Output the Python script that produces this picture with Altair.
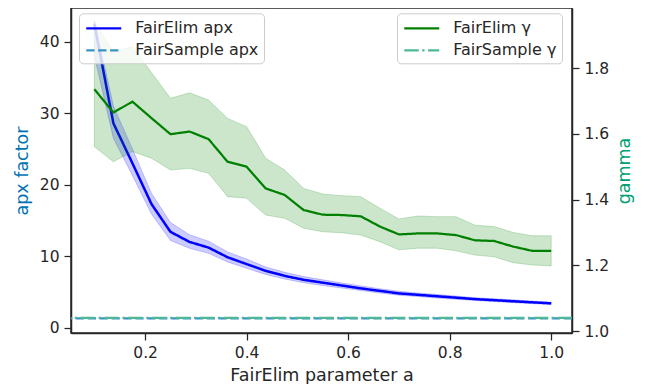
import altair as alt
import pandas as pd

# ---- data ----
a_vals = [0.1, 0.1375, 0.175, 0.2125, 0.25, 0.2875, 0.325, 0.3625, 0.4, 0.4375,
          0.475, 0.5125, 0.55, 0.5875, 0.625, 0.6625, 0.7, 0.7375, 0.775, 0.8125,
          0.85, 0.8875, 0.925, 0.9625, 1.0]

apx_mean = [42.5, 28.6, 23.0, 17.3, 13.4, 12.0, 11.2, 9.85, 8.9, 7.95,
            7.25, 6.7, 6.3, 5.9, 5.5, 5.15, 4.8, 4.6, 4.4, 4.2,
            4.0, 3.85, 3.7, 3.55, 3.41]
apx_lo = [38.0, 26.5, 21.3, 15.9, 12.2, 11.1, 10.4, 9.2, 8.3, 7.45,
          6.8, 6.3, 5.9, 5.55, 5.2, 4.85, 4.55, 4.35, 4.15, 3.97,
          3.8, 3.65, 3.5, 3.37, 3.25]
apx_hi = [43.0, 31.0, 25.0, 18.8, 14.7, 13.0, 12.1, 10.6, 9.6, 8.5,
          7.75, 7.15, 6.7, 6.25, 5.85, 5.45, 5.1, 4.85, 4.65, 4.43,
          4.2, 4.05, 3.9, 3.73, 3.57]

gam_mean = [1.736, 1.665, 1.698, 1.648, 1.599, 1.607, 1.584, 1.515, 1.500, 1.434,
            1.414, 1.368, 1.354, 1.353, 1.349, 1.318, 1.294, 1.297, 1.297, 1.292,
            1.276, 1.274, 1.257, 1.244, 1.244]
gam_lo = [1.561, 1.515, 1.546, 1.526, 1.490, 1.495, 1.480, 1.409, 1.404, 1.353,
          1.343, 1.313, 1.302, 1.299, 1.292, 1.272, 1.247, 1.252, 1.252, 1.244,
          1.231, 1.226, 1.208, 1.201, 1.198]
gam_hi = [1.941, 1.850, 1.865, 1.787, 1.708, 1.725, 1.703, 1.647, 1.622, 1.526,
          1.490, 1.434, 1.417, 1.412, 1.409, 1.374, 1.341, 1.350, 1.348, 1.348,
          1.322, 1.318, 1.300, 1.290, 1.290]

fairsample_apx = 1.3
fairsample_gamma = 1.04

left_series = ["FairElim apx", "FairSample apx"]
right_series = ["FairElim γ", "FairSample γ"]

x_ticks = [0.2, 0.4, 0.6, 0.8, 1.0]
left_ticks = [0, 10, 20, 30, 40]
right_ticks = [1.0, 1.2, 1.4, 1.6, 1.8]

# ---- tables ----
df = pd.DataFrame({
    "a": a_vals,
    "apx": apx_mean, "apx_lo": apx_lo, "apx_hi": apx_hi,
    "g": gam_mean, "g_lo": gam_lo, "g_hi": gam_hi,
})
ref_apx = pd.DataFrame({"series": [left_series[1]], "v": [fairsample_apx]})
ref_gam = pd.DataFrame({"series": [right_series[1]], "v": [fairsample_gamma]})

TXT = "#262626"
FONT = "DejaVu Sans"

X = alt.X("a:Q",
          scale=alt.Scale(domain=[0.054, 1.041], nice=False, zero=False),
          axis=alt.Axis(title="FairElim parameter a", values=x_ticks, format=".1f",
                        titlePadding=6))

left_scale = alt.Scale(domain=[-0.74, 44.71], nice=False, zero=False)
left_axis = alt.Axis(title="apx factor", titleColor="#0173b2", values=left_ticks,
                     format="d", orient="left", titlePadding=8)
right_scale = alt.Scale(domain=[0.994, 1.983], nice=False, zero=False)
right_axis = alt.Axis(title="gamma", titleColor="#029e73", values=right_ticks,
                      format=".1f", orient="right", titleAngle=270,
                      titleBaseline="top", titlePadding=7)


def make_legend(lx, ly):
    return alt.Legend(orient="none", legendX=lx, legendY=ly, title=None,
                      symbolType="M-2,0H2", symbolSize=306, symbolStrokeWidth=2.25,
                      symbolOffset=9.75, labelOffset=21.5, rowPadding=4, padding=5,
                      fillColor="rgba(255,255,255,0.8)", strokeColor="#cccccc",
                      cornerRadius=4, labelFontSize=16, labelFont=FONT,
                      labelColor=TXT)


leg_left = make_legend(8, 5.3)
leg_right = make_legend(326, 5.3)

lc_scale = alt.Scale(domain=left_series, range=["#0000ff", "#3a93c3"])
ld_scale = alt.Scale(domain=left_series, range=[[1, 0], [8.3, 3.6]])
rc_scale = alt.Scale(domain=right_series, range=["#008000", "#4cb896"])
rd_scale = alt.Scale(domain=right_series, range=[[1, 0], [14.4, 3.6, 2.25, 3.6]])

base = alt.Chart(df)

# ---- left (apx) layer ----
apx_band = base.mark_area(fill="#0000ff", fillOpacity=0.2, stroke="#0000ff",
                          strokeOpacity=0.2, strokeWidth=1).encode(
    x=X,
    y=alt.Y("apx_lo:Q", scale=left_scale, axis=left_axis),
    y2="apx_hi:Q",
)
apx_line = base.transform_calculate(series="'FairElim apx'").mark_line(
    strokeWidth=2.5).encode(
    x=X,
    y=alt.Y("apx:Q", scale=left_scale, axis=left_axis),
    color=alt.Color("series:N", scale=lc_scale, legend=leg_left),
    strokeDash=alt.StrokeDash("series:N", scale=ld_scale, legend=leg_left),
)
apx_rule = alt.Chart(ref_apx).mark_rule(strokeWidth=2.25).encode(
    y=alt.Y("v:Q", scale=left_scale, axis=left_axis),
    color=alt.Color("series:N", scale=lc_scale, legend=leg_left),
    strokeDash=alt.StrokeDash("series:N", scale=ld_scale, legend=leg_left),
)
left = alt.layer(apx_band, apx_line, apx_rule)

# ---- right (gamma) layer ----
g_band = base.mark_area(fill="#008000", fillOpacity=0.2, stroke="#008000",
                        strokeOpacity=0.2, strokeWidth=1).encode(
    x=X,
    y=alt.Y("g_lo:Q", scale=right_scale, axis=right_axis),
    y2="g_hi:Q",
)
g_line = base.transform_calculate(series="'FairElim γ'").mark_line(
    strokeWidth=2.25).encode(
    x=X,
    y=alt.Y("g:Q", scale=right_scale, axis=right_axis),
    color=alt.Color("series:N", scale=rc_scale, legend=leg_right),
    strokeDash=alt.StrokeDash("series:N", scale=rd_scale, legend=leg_right),
)
g_rule = alt.Chart(ref_gam).mark_rule(strokeWidth=2.25).encode(
    y=alt.Y("v:Q", scale=right_scale, axis=right_axis),
    color=alt.Color("series:N", scale=rc_scale, legend=leg_right),
    strokeDash=alt.StrokeDash("series:N", scale=rd_scale, legend=leg_right),
)
right = alt.layer(g_band, g_line, g_rule)

chart = alt.layer(left, right).resolve_scale(
    y="independent", color="independent", strokeDash="independent"
).resolve_legend(
    color="independent", strokeDash="independent"
).properties(
    width=501, height=325,
    padding={"left": 63, "top": 0, "right": 75, "bottom": 51},
    autosize=alt.AutoSizeParams(type="none"),
).configure(
    font=FONT,
).configure_view(
    stroke=TXT, strokeWidth=1.5,
).configure_axis(
    grid=False, domainColor=TXT, domainWidth=1.5, tickColor=TXT, tickWidth=1.25,
    tickSize=7, labelFont=FONT, labelFontSize=15.5, labelColor=TXT,
    labelPadding=5, titleFont=FONT, titleFontSize=17.5, titleFontWeight="normal",
    titleColor=TXT,
)

chart.save("out.html", embed_options={"renderer": "svg", "actions": False})
